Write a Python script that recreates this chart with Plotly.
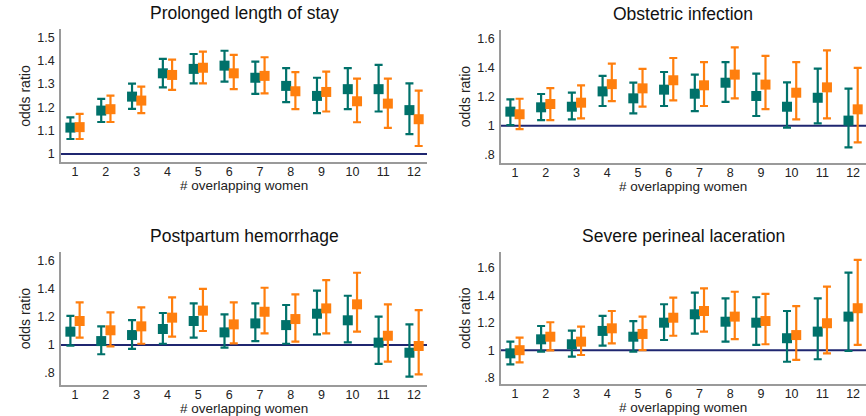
import plotly.graph_objects as go

cats = list(range(1, 13))

titles = ["Prolonged length of stay", "Obstetric infection",
          "Postpartum hemorrhage", "Severe perineal laceration"]

los_t = [1.113, 1.186, 1.246, 1.346, 1.365, 1.379, 1.327, 1.292, 1.249, 1.278, 1.278, 1.188]
los_t_lo = [1.064, 1.137, 1.193, 1.286, 1.303, 1.310, 1.258, 1.222, 1.175, 1.192, 1.182, 1.085]
los_t_hi = [1.157, 1.236, 1.302, 1.408, 1.429, 1.443, 1.396, 1.368, 1.327, 1.368, 1.382, 1.303]
los_o = [1.115, 1.192, 1.229, 1.339, 1.370, 1.346, 1.335, 1.269, 1.266, 1.226, 1.216, 1.149]
los_o_lo = [1.064, 1.137, 1.175, 1.275, 1.303, 1.278, 1.260, 1.192, 1.182, 1.136, 1.112, 1.034]
los_o_hi = [1.172, 1.250, 1.289, 1.405, 1.439, 1.425, 1.415, 1.351, 1.353, 1.323, 1.323, 1.272]

inf_t = [1.098, 1.128, 1.132, 1.238, 1.190, 1.250, 1.222, 1.298, 1.206, 1.132, 1.194, 1.036]
inf_t_lo = [1.005, 1.040, 1.045, 1.137, 1.086, 1.137, 1.102, 1.165, 1.068, 0.987, 1.017, 0.851]
inf_t_hi = [1.183, 1.220, 1.229, 1.346, 1.299, 1.372, 1.354, 1.441, 1.361, 1.301, 1.395, 1.257]
inf_o = [1.080, 1.151, 1.160, 1.288, 1.259, 1.315, 1.280, 1.354, 1.285, 1.229, 1.266, 1.114]
inf_o_lo = [0.977, 1.040, 1.052, 1.171, 1.133, 1.176, 1.137, 1.190, 1.115, 1.045, 1.052, 0.886]
inf_o_hi = [1.187, 1.261, 1.280, 1.430, 1.394, 1.469, 1.441, 1.543, 1.483, 1.441, 1.522, 1.400]

pph_t = [1.095, 1.028, 1.071, 1.114, 1.171, 1.090, 1.154, 1.142, 1.223, 1.176, 1.017, 0.945]
pph_t_lo = [0.995, 0.934, 0.972, 1.009, 1.052, 0.981, 1.028, 1.009, 1.076, 1.019, 0.865, 0.774]
pph_t_hi = [1.207, 1.133, 1.178, 1.228, 1.297, 1.218, 1.297, 1.285, 1.387, 1.351, 1.202, 1.147]
pph_o = [1.171, 1.105, 1.133, 1.195, 1.245, 1.147, 1.237, 1.185, 1.261, 1.290, 1.066, 0.993]
pph_o_lo = [1.052, 0.990, 1.009, 1.060, 1.100, 1.012, 1.083, 1.024, 1.083, 1.095, 0.881, 0.791]
pph_o_hi = [1.304, 1.233, 1.268, 1.340, 1.400, 1.304, 1.408, 1.361, 1.463, 1.515, 1.290, 1.249]

lac_t = [0.977, 1.079, 1.043, 1.140, 1.098, 1.200, 1.261, 1.207, 1.200, 1.087, 1.135, 1.244]
lac_t_lo = [0.897, 0.989, 0.953, 1.033, 0.989, 1.074, 1.120, 1.062, 1.038, 0.916, 0.934, 0.994]
lac_t_hi = [1.062, 1.176, 1.142, 1.249, 1.212, 1.334, 1.418, 1.377, 1.385, 1.285, 1.377, 1.564]
lac_o = [1.000, 1.098, 1.062, 1.159, 1.118, 1.236, 1.285, 1.244, 1.212, 1.110, 1.196, 1.305]
lac_o_lo = [0.912, 0.999, 0.965, 1.050, 1.001, 1.105, 1.135, 1.081, 1.043, 0.929, 0.977, 1.038]
lac_o_hi = [1.091, 1.203, 1.171, 1.285, 1.244, 1.382, 1.450, 1.425, 1.409, 1.321, 1.462, 1.656]

ytick_vals_a = [1, 1.1, 1.2, 1.3, 1.4, 1.5]
ytick_text_a = ["1", "1.1", "1.2", "1.3", "1.4", "1.5"]
ytick_vals_b = [0.8, 1, 1.2, 1.4, 1.6]
ytick_text_b = [".8", "1", "1.2", "1.4", "1.6"]

TEAL = "#00716a"
ORANGE = "#ff7f0e"
NAVY = "#1f2670"
AXIS_GREY = "#9a9a9a"
FONT = "Liberation Sans, Arial, sans-serif"

panels = [
    (los_t, los_t_lo, los_t_hi, los_o, los_o_lo, los_o_hi),
    (inf_t, inf_t_lo, inf_t_hi, inf_o, inf_o_lo, inf_o_hi),
    (pph_t, pph_t_lo, pph_t_hi, pph_o, pph_o_lo, pph_o_hi),
    (lac_t, lac_t_lo, lac_t_hi, lac_o, lac_o_lo, lac_o_hi),
]

W, H = 866, 416
# pixel geometry of plot areas: (left, right, top, bottom)
boxes = [(61, 427, 29.3, 162.3), (501, 866, 30, 162.7),
         (61, 427, 251.7, 385), (501, 866, 251.7, 384.3)]
title_x = [244, 683, 244, 683]
yranges = [[0.964, 1.535], [0.745, 1.6625], [0.715, 1.665], [0.752, 1.716]]
xrange_ = [0.545, 12.42]
off = 0.15

fig = go.Figure()
layout = {}
annotations = []
shapes = []

for i, (data, box, yr, title) in enumerate(zip(panels, boxes, yranges, titles)):
    t, tlo, thi, o, olo, ohi = data
    sfx = "" if i == 0 else str(i + 1)
    xa, ya = "x" + sfx, "y" + sfx
    for vals, lo, hi, col, sgn in [(t, tlo, thi, TEAL, -1), (o, olo, ohi, ORANGE, 1)]:
        xs = [c + sgn * off for c in cats]
        fig.add_trace(go.Scatter(
            x=xs, y=vals, mode="markers", xaxis=xa, yaxis=ya,
            marker=dict(symbol="square", size=10, color=col),
            error_y=dict(type="data", symmetric=False,
                         array=[h - v for h, v in zip(hi, vals)],
                         arrayminus=[v - l for v, l in zip(vals, lo)],
                         color=col, thickness=2.2, width=4),
            showlegend=False, cliponaxis=False, hoverinfo="skip"))
    l, r, top, bot = box
    xdom = [l / W, min(r / W, 1.0)]
    ydom = [1 - bot / H, 1 - top / H]
    layout["xaxis" + sfx] = dict(
        domain=xdom, range=xrange_, anchor=ya, tickvals=cats,
        ticktext=[str(c) for c in cats], showgrid=False, zeroline=False,
        showline=True, linecolor=AXIS_GREY, linewidth=2, ticks="",
        ticklabelstandoff=-3, fixedrange=True,
        tickfont=dict(size=12.5, color="#222", family=FONT))
    layout["yaxis" + sfx] = dict(
        domain=ydom, range=yr, anchor=xa,
        tickvals=ytick_vals_a if i == 0 else ytick_vals_b,
        ticktext=ytick_text_a if i == 0 else ytick_text_b,
        showgrid=False, zeroline=False, showline=True, linecolor=AXIS_GREY,
        linewidth=1.5, ticks="", ticklabelstandoff=2, fixedrange=True,
        tickfont=dict(size=12.5, color="#222", family=FONT))
    shapes.append(dict(type="line", xref=xa + " domain", yref=ya,
                       x0=0, x1=1, y0=1, y1=1,
                       line=dict(color=NAVY, width=2), layer="below"))
    annotations.append(dict(text=title, xref="paper", yref="paper",
                            x=title_x[i] / W, y=1 - (top - 16) / H,
                            xanchor="center", yanchor="middle", showarrow=False,
                            font=dict(size=17.5, color="#111", family=FONT)))
    annotations.append(dict(text="odds ratio", xref="paper", yref="paper",
                            x=(l - 36) / W, y=1 - ((top + bot) / 2) / H,
                            textangle=-90, xanchor="center", yanchor="middle",
                            showarrow=False, font=dict(size=14, color="#222", family=FONT)))
    annotations.append(dict(text="# overlapping women", xref="paper", yref="paper",
                            x=title_x[i] / W, y=1 - (bot + 23.5) / H,
                            xanchor="center", yanchor="middle", showarrow=False,
                            font=dict(size=13.5, color="#222", family=FONT)))

fig.update_layout(
    width=W, height=H, margin=dict(l=0, r=0, t=0, b=0),
    paper_bgcolor="white", plot_bgcolor="white", hovermode=False,
    annotations=annotations, shapes=shapes, **layout)

fig.write_html("out.html", config={"displayModeBar": False},
               post_script="document.body.style.margin='0';document.body.style.overflow='hidden';")
